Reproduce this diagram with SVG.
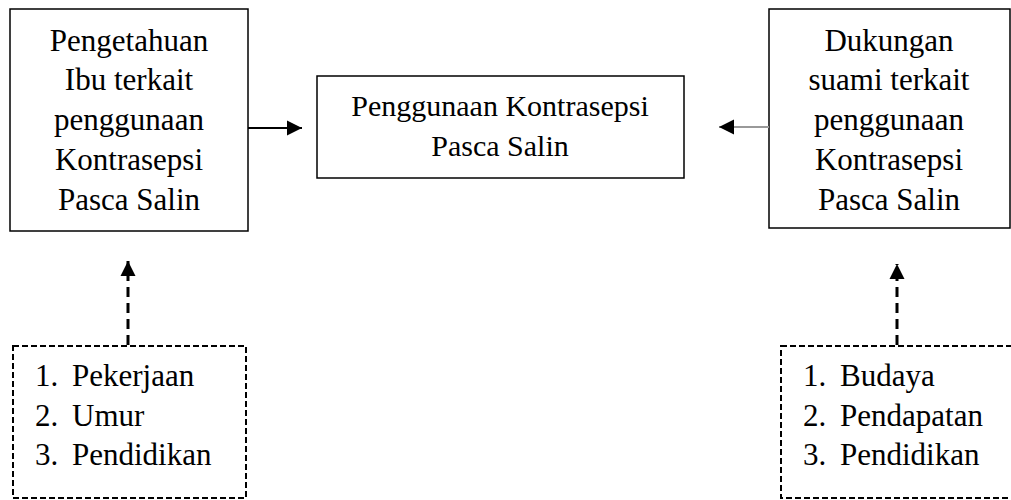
<svg xmlns="http://www.w3.org/2000/svg" width="1011" height="500" viewBox="0 0 1011 500">
<defs>
<style>
.t{font-family:'Liberation Serif','Times New Roman',serif;font-size:31px;fill:#000}
.m{font-size:30px}
.c{text-anchor:middle}
.box{fill:#fff;stroke:#000;stroke-width:1.5}
.dbox{fill:#fff;stroke:#000;stroke-width:2;stroke-dasharray:6 3}
.solid{stroke:#000;stroke-width:2;fill:none}
.gray{stroke:#999;stroke-width:2;fill:none}
.dash{stroke:#000;stroke-width:3;stroke-dasharray:10 6;fill:none}
</style>
<marker id="ah" viewBox="0 0 10 10" refX="10" refY="5" markerWidth="15" markerHeight="16" markerUnits="userSpaceOnUse" orient="auto"><path d="M0,0 L10,5 L0,10 Z" fill="#000"/></marker>
</defs>
<g id="n-pengetahuan">
<rect class="box" x="10" y="9" width="238" height="222"/>
<text class="t c" x="129" y="51">Pengetahuan</text>
<text class="t c" x="129" y="90">Ibu terkait</text>
<text class="t c" x="129" y="130">penggunaan</text>
<text class="t c" x="129" y="170">Kontrasepsi</text>
<text class="t c" x="129" y="210">Pasca Salin</text>
</g>
<g id="n-penggunaan">
<rect class="box" x="317" y="76" width="367" height="102"/>
<text class="t m c" x="500" y="116">Penggunaan Kontrasepsi</text>
<text class="t m c" x="500" y="156">Pasca Salin</text>
</g>
<g id="n-dukungan">
<rect class="box" x="769" y="9" width="241" height="219"/>
<text class="t c" x="889" y="51">Dukungan</text>
<text class="t c" x="889" y="90">suami terkait</text>
<text class="t c" x="889" y="130">penggunaan</text>
<text class="t c" x="889" y="170">Kontrasepsi</text>
<text class="t c" x="889" y="210">Pasca Salin</text>
</g>
<g id="n-faktor-ibu">
<rect class="dbox" x="13" y="346" width="233" height="152"/>
<text class="t" x="35" y="386">1.</text><text class="t" x="72" y="386">Pekerjaan</text>
<text class="t" x="35" y="426">2.</text><text class="t" x="72" y="426">Umur</text>
<text class="t" x="35" y="465">3.</text><text class="t" x="72" y="465">Pendidikan</text>
</g>
<g id="n-faktor-suami">
<rect class="dbox" x="781" y="346" width="240" height="152"/>
<text class="t" x="803" y="386">1.</text><text class="t" x="840" y="386">Budaya</text>
<text class="t" x="803" y="426">2.</text><text class="t" x="840" y="426">Pendapatan</text>
<text class="t" x="803" y="465">3.</text><text class="t" x="840" y="465">Pendidikan</text>
</g>
<g id="connectors">
<line class="solid" x1="248" y1="128" x2="302" y2="128" marker-end="url(#ah)"/>
<line class="gray" x1="769" y1="127" x2="719" y2="127" marker-end="url(#ah)"/>
<line class="dash" x1="128" y1="345" x2="128" y2="261" marker-end="url(#ah)"/>
<line class="dash" x1="897" y1="345" x2="897" y2="264" marker-end="url(#ah)"/>
</g>
</svg>
